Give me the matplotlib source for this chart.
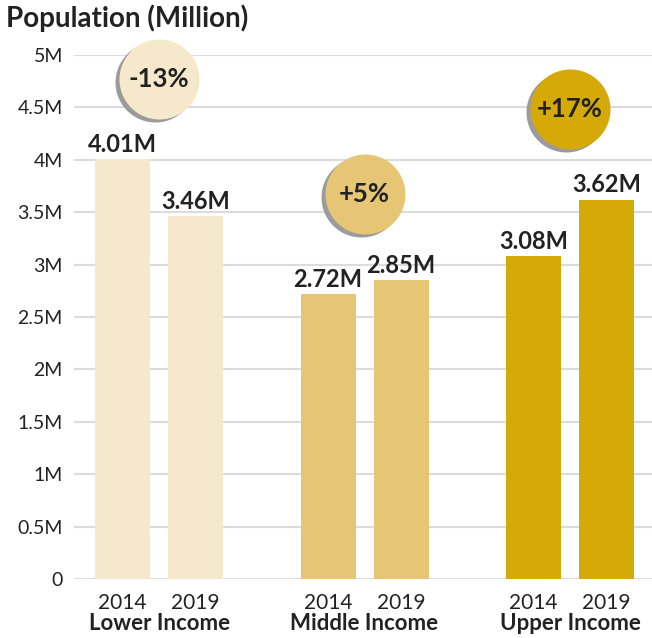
import matplotlib
matplotlib.use("Agg")
import matplotlib.pyplot as plt
import matplotlib.transforms as mtransforms
import numpy as np

plt.rcParams['font.family'] = ['Lato', 'DejaVu Sans']

categories = ["Lower Income", "Middle Income", "Upper Income"]
years = ["2014", "2019"]
values_2014 = [4.01, 2.72, 3.08]
values_2019 = [3.46, 2.85, 3.62]
changes = ["-13%", "+5%", "+17%"]
bubble_y = [4.77, 3.67, 4.48]
yticks = [0, 0.5, 1, 1.5, 2, 2.5, 3, 3.5, 4, 4.5, 5]
ytick_labels = ["0", "0.5M", "1M", "1.5M", "2M", "2.5M", "3M", "3.5M", "4M", "4.5M", "5M"]
colors = ["#f6e9cb", "#e6c675", "#d5a908"]

fig = plt.figure(figsize=(6.52, 6.38), dpi=100)
ax = fig.add_axes([74/652, (638-579)/638, 1-74/652, (579-55)/638])

x = np.arange(len(categories))
off = 0.1776
w = 0.2676
ax.bar(x - off, values_2014, width=w, color=colors, zorder=2)
ax.bar(x + off, values_2019, width=w, color=colors, zorder=2)

txtc = "#222222"
for i in range(len(categories)):
    ax.text(x[i] - off, values_2014[i] + 0.03, f"{values_2014[i]:.2f}M", ha="center", va="bottom",
            fontsize=17, fontweight="bold", color=txtc)
    ax.text(x[i] + off, values_2019[i] + 0.03, f"{values_2019[i]:.2f}M", ha="center", va="bottom",
            fontsize=17, fontweight="bold", color=txtc)

# bubbles
shadow_tr = mtransforms.offset_copy(ax.transData, fig=fig, x=-4, y=-3, units='dots')
s = (80 * 72 / 100) ** 2
for i in range(len(categories)):
    ax.scatter([x[i]], [bubble_y[i]], s=s, color="#9b9b9b", transform=shadow_tr, zorder=3,
               clip_on=False, linewidths=0)
    ax.scatter([x[i]], [bubble_y[i]], s=s, color=colors[i], zorder=4, clip_on=False, linewidths=0)
    ax.text(x[i], bubble_y[i], changes[i], ha="center", va="center", fontsize=18.5,
            fontweight="bold", color=txtc, zorder=5)

ax.set_xlim(-0.414, 2.399)
ax.set_ylim(0, 5)
ax.set_yticks(yticks)
ax.set_yticklabels(ytick_labels, fontsize=14, color=txtc)
ax.yaxis.grid(True, color="#dcdcdc", linewidth=1.5, zorder=0)
ax.set_axisbelow(True)
ax.tick_params(axis="y", length=0, pad=8)
ax.tick_params(axis="x", length=0)
ax.set_xticks([])
for sp in ax.spines.values():
    sp.set_visible(False)

for i in range(len(categories)):
    for j, xx in enumerate([x[i] - off, x[i] + off]):
        ax.annotate(years[j], xy=(xx, 0), xycoords="data", xytext=(0, -17), textcoords="offset points",
                    ha="center", va="center", fontsize=15, color=txtc, annotation_clip=False)
    ax.annotate(categories[i], xy=(x[i], 0), xycoords="data", xytext=(0, -32), textcoords="offset points",
                ha="center", va="center", fontsize=16, fontweight="bold", color=txtc, annotation_clip=False)

fig.text(6/652, 1 - 18/638, "Population (Million)", ha="left", va="center", fontsize=20,
         fontweight="bold", color=txtc)

fig.savefig("out.png", dpi=100)
